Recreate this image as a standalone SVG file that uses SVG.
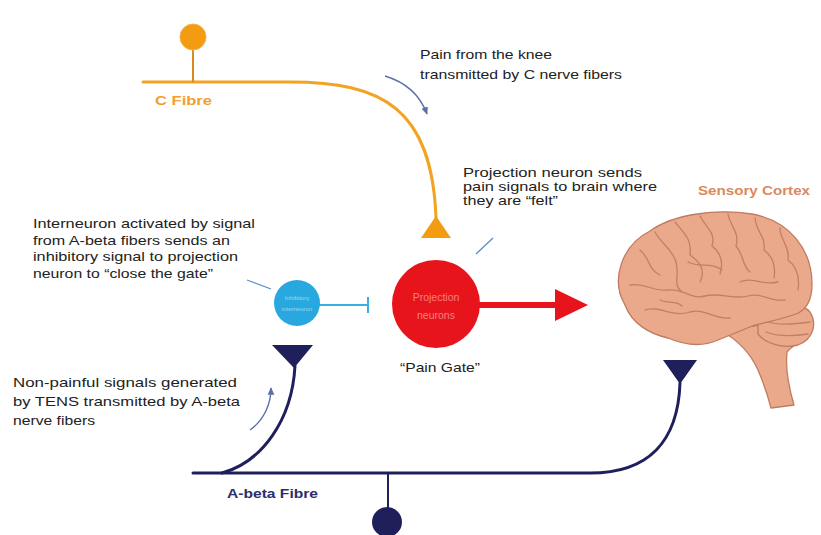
<svg xmlns="http://www.w3.org/2000/svg" width="821" height="535" viewBox="0 0 821 535">
  <defs>
    <style>
      .lbl { font-family: "Liberation Sans", Arial, sans-serif; font-size: 13px; fill: #222; }
      .c-fibre { fill: none; stroke: #f2a322; stroke-width: 3; stroke-linecap: round; }
      .ab-fibre { fill: none; stroke: #1f1f5c; stroke-width: 3; stroke-linecap: round; }
      .hint { fill: none; stroke: #5b6fa8; stroke-width: 1.4; }
      .pointer { fill: none; stroke: #5b8fc7; stroke-width: 1.3; }
      .tissue { fill: #eba98b; stroke: #c07a5f; stroke-width: 1.3; stroke-linejoin: round; }
      .gyrus { fill: none; stroke: #c27f63; stroke-width: 1.3; stroke-linecap: round; stroke-linejoin: round; }
    </style>
    <marker id="hintHead" viewBox="0 0 10 10" refX="8" refY="5" markerWidth="6" markerHeight="6" orient="auto">
      <path d="M0,1 L9,5 L0,9 Z" fill="#5b6fa8"/>
    </marker>
  </defs>

  <rect width="821" height="535" fill="#ffffff"/>

  <!-- fibres, synaptic links and hint arrows -->
  <g id="connectors">
    <!-- C fibre from the knee to the dorsal horn -->
    <path class="c-fibre" d="M143,82 L290,82 C382,82 432,108 436,218"/>
    <line x1="193" y1="50" x2="193" y2="82" stroke="#d98a1c" stroke-width="2"/>
    <!-- A-beta fibre -->
    <path class="ab-fibre" d="M193,473 L590,473 C650,473 678,440 680,383"/>
    <path class="ab-fibre" d="M295,366 C292,420 262,462 222,473"/>
    <line x1="388" y1="473" x2="388" y2="510" stroke="#1f1f5c" stroke-width="2"/>
    <!-- inhibitory link, interneuron to projection neuron -->
    <line x1="318" y1="305" x2="368" y2="305" stroke="#3aaee0" stroke-width="2"/>
    <line x1="368" y1="297" x2="368" y2="313" stroke="#3aaee0" stroke-width="2"/>
    <!-- output to the brain -->
    <line x1="478" y1="305" x2="560" y2="305" stroke="#e8141b" stroke-width="6"/>
    <polygon points="555,289 588,305 555,321" fill="#e8141b"/>
    <!-- direction hints -->
    <path class="hint" d="M385,76 C405,82 420,95 427,114" marker-end="url(#hintHead)"/>
    <path class="hint" d="M250,430 C264,420 271,404 271,388" marker-end="url(#hintHead)"/>
    <!-- callout pointers -->
    <line class="pointer" x1="247" y1="280" x2="271" y2="289"/>
    <line class="pointer" x1="476" y1="254" x2="493" y2="238"/>
  </g>

  <!-- C fibre cell body and terminal -->
  <g id="c-fibre">
    <circle cx="193" cy="37" r="13" fill="#f39c12" stroke="#f6b04a" stroke-width="1"/>
    <polygon points="436,216 451,238 421,238" fill="#f39c12"/>
    <text x="155" y="105" font-family="Liberation Sans, Arial, sans-serif" font-size="12.5" font-weight="bold" fill="#f0a030" textLength="57" lengthAdjust="spacingAndGlyphs">C Fibre</text>
  </g>

  <!-- A-beta fibre cell body and terminals -->
  <g id="a-beta-fibre">
    <circle cx="387" cy="522" r="15" fill="#1f1f5c"/>
    <polygon points="272,345 313,345 294,368" fill="#1f1f5c"/>
    <polygon points="663,360 697,360 680,384" fill="#1f1f5c"/>
    <text x="227" y="498" font-family="Liberation Sans, Arial, sans-serif" font-size="12.5" font-weight="bold" fill="#2b2d6e" textLength="91" lengthAdjust="spacingAndGlyphs">A-beta Fibre</text>
  </g>

  <!-- inhibitory interneuron -->
  <g id="interneuron">
    <circle cx="297" cy="303" r="23" fill="#29a8e0"/>
    <text x="297" y="300" text-anchor="middle" font-family="Liberation Sans, Arial, sans-serif" font-size="6" fill="#9ad8f5">Inhibitory</text>
    <text x="297" y="311" text-anchor="middle" font-family="Liberation Sans, Arial, sans-serif" font-size="6" fill="#9ad8f5">interneuron</text>
  </g>

  <!-- projection neuron -->
  <g id="projection-neuron">
    <circle cx="436" cy="304" r="44" fill="#e8141b"/>
    <text x="436" y="301" text-anchor="middle" font-family="Liberation Sans, Arial, sans-serif" font-size="10.5" fill="#f58080">Projection</text>
    <text x="436" y="319" text-anchor="middle" font-family="Liberation Sans, Arial, sans-serif" font-size="10.5" fill="#f58080">neurons</text>
    <text class="lbl" x="400" y="372" textLength="80" lengthAdjust="spacingAndGlyphs">“Pain Gate”</text>
  </g>

  <!-- brain: brainstem, cerebellum, cerebrum -->
  <g id="brain">
    <path class="tissue" d="M720,330 C738,340 750,352 758,370 C764,384 768,396 771,408 L794,405 C789,388 785,370 787,352 C792,346 800,342 806,336 L788,322 Z"/>
    <path class="tissue" d="M758,318 C770,305 800,300 810,312 C818,325 812,340 798,345 C782,349 765,343 758,334 Z"/>
    <path class="gyrus" d="M768,322 C780,326 796,324 810,322 M766,332 C778,337 794,336 808,334"/>
    <path class="tissue" d="M625,305 C610,280 622,245 650,231 C672,215 715,208 752,214 C790,221 812,250 812,284 C812,300 806,310 796,314 C780,320 765,322 752,326 C738,332 728,336 718,340 C700,348 682,344 668,338 C650,334 632,324 625,305 Z"/>
    <path class="gyrus" d="M640,250 C650,258 648,270 660,275 M655,232 C662,245 672,248 676,262 C680,275 672,285 682,292"/>
    <path class="gyrus" d="M675,222 C685,234 692,240 690,255 C700,262 706,270 700,282"/>
    <path class="gyrus" d="M700,216 C706,228 716,232 712,246 C720,252 724,262 720,274"/>
    <path class="gyrus" d="M728,214 C730,226 740,232 736,246 C744,255 742,266 750,272"/>
    <path class="gyrus" d="M755,218 C756,232 766,236 764,250 C772,256 776,266 774,278"/>
    <path class="gyrus" d="M780,228 C780,240 790,246 788,260 C796,266 800,276 798,290"/>
    <path class="gyrus" d="M630,285 C645,282 652,292 668,290 C684,288 690,300 705,296 C720,292 735,300 748,296 C762,292 770,302 785,300"/>
    <path class="gyrus" d="M645,310 C660,305 672,318 690,312 C705,308 715,320 730,318"/>
    <path class="gyrus" d="M688,262 C700,268 712,262 722,270 M740,282 C752,276 762,286 778,282 M660,300 C668,304 676,300 682,306"/>
  </g>

  <!-- callout texts -->
  <g id="callout-c-fibre">
    <text class="lbl" x="420" y="59" textLength="132" lengthAdjust="spacingAndGlyphs">Pain from the knee</text>
    <text class="lbl" x="420" y="79" textLength="202" lengthAdjust="spacingAndGlyphs">transmitted by C nerve fibers</text>
  </g>
  <g id="callout-projection">
    <text class="lbl" x="463" y="177" textLength="179" lengthAdjust="spacingAndGlyphs">Projection neuron sends</text>
    <text class="lbl" x="463" y="191" textLength="194" lengthAdjust="spacingAndGlyphs">pain signals to brain where</text>
    <text class="lbl" x="463" y="205" textLength="95" lengthAdjust="spacingAndGlyphs">they are “felt”</text>
  </g>
  <g id="callout-interneuron">
    <text class="lbl" x="33" y="228" textLength="222" lengthAdjust="spacingAndGlyphs">Interneuron activated by signal</text>
    <text class="lbl" x="33" y="245" textLength="197" lengthAdjust="spacingAndGlyphs">from A-beta fibers sends an</text>
    <text class="lbl" x="33" y="261" textLength="205" lengthAdjust="spacingAndGlyphs">inhibitory signal to projection</text>
    <text class="lbl" x="33" y="278" textLength="180" lengthAdjust="spacingAndGlyphs">neuron to “close the gate”</text>
  </g>
  <g id="callout-a-beta">
    <text class="lbl" x="13" y="387" textLength="224" lengthAdjust="spacingAndGlyphs">Non-painful signals generated</text>
    <text class="lbl" x="13" y="406" textLength="227" lengthAdjust="spacingAndGlyphs">by TENS transmitted by A-beta</text>
    <text class="lbl" x="13" y="425" textLength="82" lengthAdjust="spacingAndGlyphs">nerve fibers</text>
  </g>
  <g id="label-cortex">
    <text x="698" y="195" font-family="Liberation Sans, Arial, sans-serif" font-size="12.5" font-weight="bold" fill="#d98a5e" textLength="112" lengthAdjust="spacingAndGlyphs">Sensory Cortex</text>
  </g>
</svg>
